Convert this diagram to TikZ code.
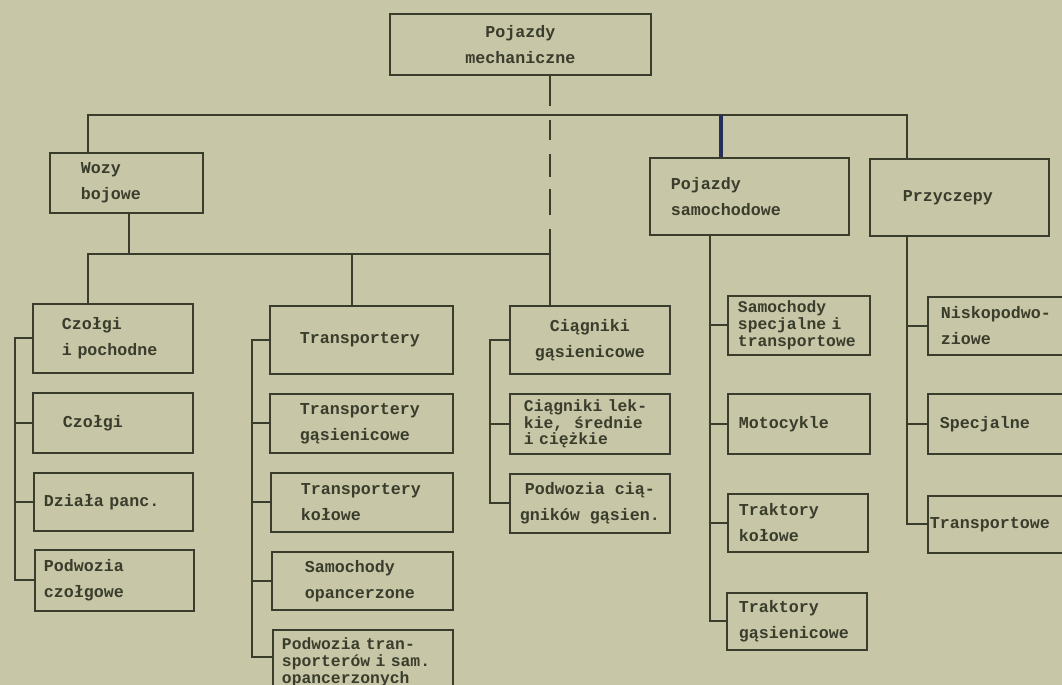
\documentclass[tikz,border=0pt]{standalone}
\usepackage{fontspec}
\usepackage{tikz}
\usetikzlibrary{positioning}
\newfontfamily\typewriter{Liberation Mono}
\definecolor{paper}{RGB}{199,198,166}
\definecolor{ink}{RGB}{58,60,44}
\definecolor{penblue}{RGB}{38,46,92}

\begin{document}
\begin{tikzpicture}[x=0.02cm,y=-0.02cm,
        line/.style={draw=ink,line width=1.1pt},
        box/.style={draw=ink,line width=1.1pt,anchor=north west,align=left,inner ysep=0pt,text=ink,
            font=\typewriter\bfseries\fontsize{9.48}{14.8}\selectfont},
        tight/.style={font=\typewriter\bfseries\fontsize{9.3}{9.5}\selectfont}]
        \clip (0,0) rectangle (1062,685);
        \fill[paper] (0,0) rectangle (1062,685);

        % top levels
        \node[box,align=center,minimum width=5.22cm,minimum height=1.22cm] (pm) at (389,13) {Pojazdy\\mechaniczne};
        \node[box,minimum height=1.2cm,inner xsep=0.62cm,text width=1.82cm] (wb) at (49,152) {Wozy\\bojowe};
        \node[box,minimum height=1.54cm,inner xsep=0.42cm,text width=3.14cm] (ps) at (649,157) {Pojazdy\\samochodowe};
        \node[box,minimum height=1.54cm,inner xsep=0.66cm,text width=2.26cm] (pr) at (869,158) {Przyczepy};

        % wozy bojowe
        \node[box,minimum height=1.38cm,inner xsep=0.58cm,text width=2.04cm] (cz1) at (32,303) {Czołgi\\i pochodne};
        \node[box,minimum height=1.2cm,inner xsep=0.6cm,text width=2cm] (cz2) at (32,392) {Czołgi};
        \node[box,minimum height=1.16cm,inner xsep=0.2cm,text width=2.78cm] (cz3) at (33,472) {Działa panc.};
        \node[box,minimum height=1.22cm,inner xsep=0.18cm,text width=2.82cm] (cz4) at (34,549) {Podwozia\\czołgowe};

        \node[box,minimum height=1.36cm,inner xsep=0.6cm,text width=2.46cm] (tr1) at (269,305) {Transportery};
        \node[box,minimum height=1.18cm,inner xsep=0.6cm,text width=2.46cm] (tr2) at (269,393) {Transportery\\gąsienicowe};
        \node[box,minimum height=1.18cm,inner xsep=0.6cm,text width=2.44cm] (tr3) at (270,472) {Transportery\\kołowe};
        \node[box,minimum height=1.16cm,inner xsep=0.66cm,text width=2.3cm] (tr4) at (271,551) {Samochody\\opancerzone};
        \node[box,tight,minimum height=1.3cm,inner xsep=0.18cm,text width=3.24cm] (tr5) at (272,629) {Podwozia tran-\\sporterów i sam.\\opancerzonych};

        \node[box,align=center,minimum width=3.2cm,minimum height=1.36cm] (cg1) at (509,305) {Ciągniki\\gąsienicowe};
        \node[box,tight,minimum height=1.2cm,inner xsep=0.28cm,text width=2.64cm] (cg2) at (509,393) {Ciągniki lek-\\kie,~~średnie\\i ciężkie};
        \node[box,align=center,minimum width=3.2cm,minimum height=1.18cm] (cg3) at (509,473) {Podwozia cią-\\gników gąsien.};

        % pojazdy samochodowe
        \node[box,tight,minimum height=1.18cm,inner xsep=0.2cm,text width=2.44cm] (sa1) at (727,295) {Samochody\\specjalne i\\transportowe};
        \node[box,minimum height=1.2cm,inner xsep=0.22cm,text width=2.4cm] (sa2) at (727,393) {Motocykle};
        \node[box,minimum height=1.16cm,inner xsep=0.22cm,text width=2.36cm] (sa3) at (727,493) {Traktory\\kołowe};
        \node[box,minimum height=1.14cm,inner xsep=0.24cm,text width=2.32cm] (sa4) at (726,592) {Traktory\\gąsienicowe};

        % przyczepy
        \node[box,minimum height=1.16cm,inner xsep=0.26cm,text width=2.54cm] (pc1) at (927,296) {Niskopodwo-\\ziowe};
        \node[box,minimum height=1.2cm,inner xsep=0.24cm,text width=2.58cm] (pc2) at (927,393) {Specjalne};
        \node[box,minimum height=1.14cm,inner xsep=0.04cm,text width=2.98cm] (pc3) at (927,495) {Transportowe};

        \coordinate (j1) at (88,115);
        \coordinate (j2) at (907,115);
        \coordinate (j3) at (721,115);
        \coordinate (j4) at (550,254);
        \coordinate (j5) at (129,254);
        \coordinate (j6) at (88,254);
        \coordinate (j7) at (352,254);

        \draw[line] (wb.north -| j1) |- (j2) -- (pr.north -| j2);
        \draw[draw=penblue,line width=2.2pt] (j3) -- (ps.north -| j3);
        \draw[line,dash pattern=on 17.1pt off 8pt on 11.4pt off 8pt on 13.1pt off 6.8pt on 14.8pt off 8pt on 15.9pt off 8pt] (pm.south -| j4) -- (j4);
        \draw[line] (wb.south -| j5) -- (j5);
        \draw[line] (cz1.north -| j6) |- (j4) -- (cg1.north -| j4);
        \draw[line] (j7) -- (tr1.north -| j7);

        \coordinate (k1) at (15,0);
        \coordinate (k2) at (252,0);
        \coordinate (k3) at (490,0);
        \coordinate (k4) at (710,0);
        \coordinate (k5) at (907,0);
        \coordinate (t5) at (252,657);

        \draw[line] (cz1.west) -- (cz1.west -| k1) |- (cz4.west);
        \foreach \n in {cz2,cz3}
            \draw[line] (\n.west -| k1) -- (\n.west);
        \draw[line] (tr1.west) -- (tr1.west -| k2) -- (t5) -- (t5 -| tr5.west);
        \foreach \n in {tr2,tr3,tr4}
            \draw[line] (\n.west -| k2) -- (\n.west);
        \draw[line] (cg1.west) -- (cg1.west -| k3) |- (cg3.west);
        \draw[line] (cg2.west -| k3) -- (cg2.west);
        \draw[line] (ps.south -| k4) |- (sa4.west);
        \foreach \n in {sa1,sa2,sa3}
            \draw[line] (\n.west -| k4) -- (\n.west);
        \draw[line] (pr.south -| k5) |- (pc3.west);
        \foreach \n in {pc1,pc2}
            \draw[line] (\n.west -| k5) -- (\n.west);
    \end{tikzpicture}
\end{document}
